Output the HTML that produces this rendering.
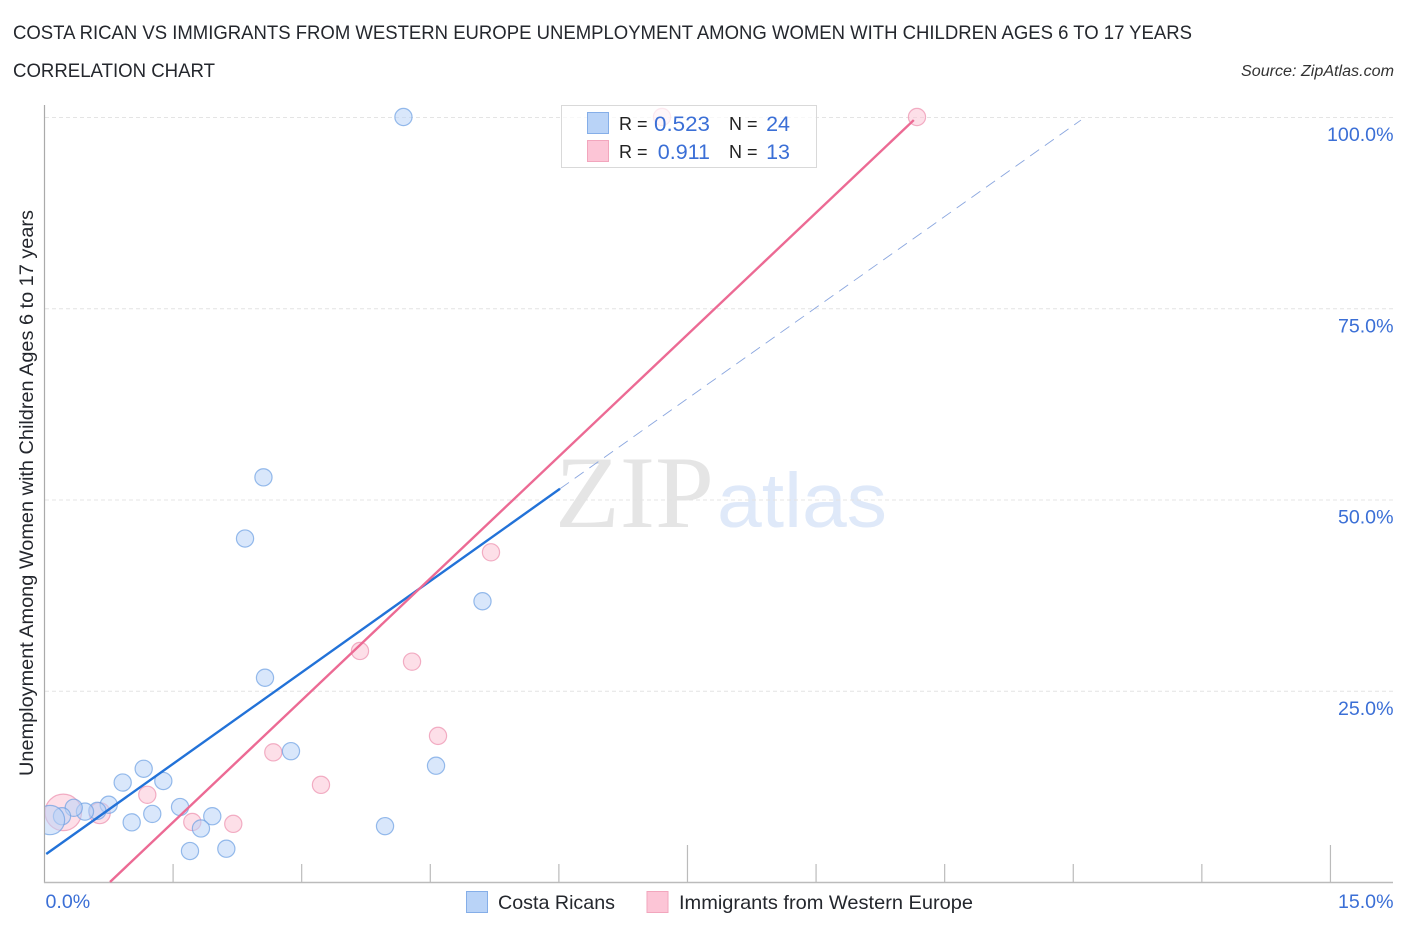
<!DOCTYPE html>
<html lang="en">
<head>
<meta charset="utf-8">
<title>Costa Rican vs Immigrants from Western Europe Correlation Chart</title>
<style>
html,body{margin:0;padding:0;background:#fff;}
svg{display:block;font-family:"Liberation Sans",sans-serif;}
</style>
</head>
<body>
<svg id="chart" width="1406" height="930" viewBox="0 0 1406 930" xmlns="http://www.w3.org/2000/svg">
  <text x="13" y="39" font-size="19" fill="#24272d" textLength="1179" lengthAdjust="spacingAndGlyphs">COSTA RICAN VS IMMIGRANTS FROM WESTERN EUROPE UNEMPLOYMENT AMONG WOMEN WITH CHILDREN AGES 6 TO 17 YEARS</text>
  <text x="13" y="77" font-size="19" fill="#24272d" textLength="202" lengthAdjust="spacingAndGlyphs">CORRELATION CHART</text>
  <text x="1241" y="76" font-size="15.5" font-style="italic" fill="#333" textLength="153" lengthAdjust="spacingAndGlyphs">Source: ZipAtlas.com</text>

  <g>
    <text x="555" y="527" font-family="'Liberation Serif',serif" font-size="103" fill="#e5e5e5" textLength="159" lengthAdjust="spacingAndGlyphs">ZIP</text>
    <text x="717" y="527" font-size="77" fill="#dfe9f9" textLength="170" lengthAdjust="spacingAndGlyphs">atlas</text>
  </g>

  <g id="grid"></g>
  <g id="axes"></g>
  <svg x="45" y="100" width="1350" height="782" viewBox="45 100 1350 782" overflow="hidden">
    <g id="pink-points"></g>
    <g id="blue-points"></g>
  </svg>
  <g id="trends"></g>
  <g id="labels"></g>

  <text transform="translate(33,493) rotate(-90)" text-anchor="middle" font-size="19" fill="#24272d" textLength="566" lengthAdjust="spacingAndGlyphs">Unemployment Among Women with Children Ages 6 to 17 years</text>

  <g>
    <rect x="561.5" y="105.5" width="255" height="62" fill="#fff" fill-opacity="0.72" stroke="#d9d9d9" stroke-width="1"/>
    <rect x="587.5" y="112.5" width="21" height="21" fill="#b9d3f7" stroke="#85aee8" stroke-width="1"/>
    <rect x="587.5" y="140.5" width="21" height="21" fill="#fcc5d6" stroke="#f2a6bd" stroke-width="1"/>
    <text x="619" y="130" font-size="18" fill="#222">R =</text>
    <text x="710" y="131" font-size="21.5" fill="#3b6fd6" text-anchor="end" textLength="56" lengthAdjust="spacingAndGlyphs">0.523</text>
    <text x="729" y="130" font-size="18" fill="#222">N =</text>
    <text x="790" y="131" font-size="21.5" fill="#3b6fd6" text-anchor="end">24</text>
    <text x="619" y="158" font-size="18" fill="#222">R =</text>
    <text x="710" y="159" font-size="21.5" fill="#3b6fd6" text-anchor="end">0.911</text>
    <text x="729" y="158" font-size="18" fill="#222">N =</text>
    <text x="790" y="159" font-size="21.5" fill="#3b6fd6" text-anchor="end">13</text>
  </g>

  <g>
    <rect x="466.5" y="891.5" width="21" height="21" fill="#b9d3f7" stroke="#85aee8" stroke-width="1"/>
    <text x="498" y="909" font-size="19.5" fill="#24272d" textLength="117" lengthAdjust="spacingAndGlyphs">Costa Ricans</text>
    <rect x="647" y="891.5" width="21" height="21" fill="#fcc5d6" stroke="#f2a6bd" stroke-width="1"/>
    <text x="679" y="909" font-size="19.5" fill="#24272d" textLength="294" lengthAdjust="spacingAndGlyphs">Immigrants from Western Europe</text>
  </g>
</svg>
<script>
const blueX = [4.187,2.554,2.339,5.109,2.572,2.875,4.567,1.157,0.912,1.386,1.581,1.257,1.017,0.749,0.616,0.472,0.341,0.204,0.064,1.957,1.825,1.697,2.121,3.972];
const blueY = [100,52.9,44.9,36.7,26.7,17.1,15.2,14.8,13.0,13.2,9.8,8.9,7.8,10.1,9.3,9.2,9.7,8.6,8.1,8.6,7.0,4.05,4.35,7.3];
const blueWeight = [1,1,1,1,1,1,1,1,1,1,1,1,1,1,1,1,1,1,2.9,1,1,1,1,1];
const pinkX = [7.203,10.177,5.208,3.68,4.287,4.59,2.669,3.225,1.199,1.724,2.202,0.644,0.219];
const pinkY = [100,100,43.1,30.2,28.8,19.1,16.95,12.7,11.4,7.85,7.6,9.0,9.1];
const pinkWeight = [1,1,1,1,1,1,1,1,1,1,1,1.5,4.5];
const blueTrendX = [0.02,6.013];
const blueTrendY = [3.66,51.4];
const blueExtensionX = [6.013,12.09];
const blueExtensionY = [51.4,99.6];
const pinkTrendX = [0.764,10.14];
const pinkTrendY = [0,99.6];
const yTickValues = [25,50,75,100];
const yTickLabels = ['25.0%','50.0%','75.0%','100.0%'];
const xTickValues = [1.5,3,4.5,6,7.5,9,10.5,12,13.5,15];
const xMajorTicks = [7.5,15];
const xEndLabels = ['0.0%','15.0%'];

const NS = 'http://www.w3.org/2000/svg';
function xScale(v){ return 44.5 + v * 85.73; }
function yScale(v){ return 882 - v * 7.65; }
function make(tag, attrs, parent){
  const el = document.createElementNS(NS, tag);
  for (const k in attrs) el.setAttribute(k, attrs[k]);
  parent.appendChild(el);
  return el;
}

const gridG = document.getElementById('grid');
yTickValues.forEach(function(v){
  const gl = make('line', {x1:45, x2:1393, y1:yScale(v)+0.5, y2:yScale(v)+0.5, stroke:'#e4e4e4', 'stroke-width':1, 'stroke-dasharray':'4 3'}, gridG);
  
  
});

const axesG = document.getElementById('axes');
const yAxisLine = make('line', {x1:44.5, x2:44.5, y1:105, y2:883, stroke:'#aaaaaa', 'stroke-width':1.2}, axesG);


const xAxisLine = make('line', {x1:44, x2:1393, y1:882.5, y2:882.5, stroke:'#bbbbbb', 'stroke-width':1.5}, axesG);


xTickValues.forEach(function(v){
  const top = xMajorTicks.indexOf(v) >= 0 ? 845 : 864;
  const t = make('line', {x1:xScale(v), x2:xScale(v), y1:top, y2:882, stroke:'#bbbbbb', 'stroke-width':1.2}, axesG);
  
  
});

function drawPoints(groupId, xs, ys, weights, fill, stroke, strokeOpacity, name){
  const g = document.getElementById(groupId);
  xs.forEach(function(x, i){
    const c = make('circle', {cx:xScale(x), cy:yScale(ys[i]), r:8.6*Math.sqrt(weights[i]), fill:fill, 'fill-opacity':0.55, stroke:stroke, 'stroke-opacity':strokeOpacity, 'stroke-width':1.2}, g);
    
    
  });
}
drawPoints('pink-points', pinkX, pinkY, pinkWeight, '#fbc4d5', '#f0a0ba', 0.85, 'immigrants-point');
drawPoints('blue-points', blueX, blueY, blueWeight, '#b9d3f7', '#6c9fe3', 0.7, 'costa-ricans-point');

const trendG = document.getElementById('trends');
const blueExt = make('line', {x1:xScale(blueExtensionX[0]), y1:yScale(blueExtensionY[0]), x2:xScale(blueExtensionX[1]), y2:yScale(blueExtensionY[1]), stroke:'#8aa6df', 'stroke-width':0.9, 'stroke-dasharray':'11 7'}, trendG);


const blueLine = make('line', {x1:xScale(blueTrendX[0]), y1:yScale(blueTrendY[0]), x2:xScale(blueTrendX[1]), y2:yScale(blueTrendY[1]), stroke:'#2272d8', 'stroke-width':2.4}, trendG);


const pinkLine = make('line', {x1:xScale(pinkTrendX[0]), y1:yScale(pinkTrendY[0]), x2:xScale(pinkTrendX[1]), y2:yScale(pinkTrendY[1]), stroke:'#ec6a94', 'stroke-width':2.4}, trendG);



const labelG = document.getElementById('labels');
yTickValues.forEach(function(v, i){
  const t = make('text', {x:1393.5, y:yScale(v)+24, 'text-anchor':'end', 'font-size':19.6, fill:'#3b6fd6'}, labelG);
  t.textContent = yTickLabels[i];
  
  
});
const x0 = make('text', {x:45.5, y:908, 'font-size':19.6, fill:'#3b6fd6'}, labelG);
x0.textContent = xEndLabels[0];


const x1 = make('text', {x:1393.5, y:908, 'text-anchor':'end', 'font-size':19.6, fill:'#3b6fd6'}, labelG);
x1.textContent = xEndLabels[1];


</script>
</body>
</html>
